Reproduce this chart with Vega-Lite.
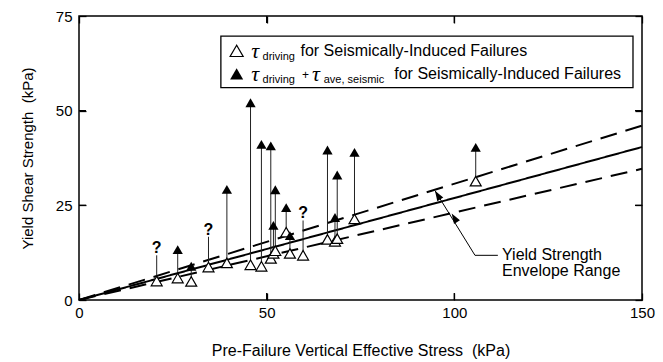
{
  "$schema": "https://vega.github.io/schema/vega-lite/v6.json",
  "width": 563,
  "height": 284,
  "autosize": {"type": "none"},
  "padding": {"left": 79, "top": 16, "right": 21, "bottom": 62},
  "background": "white",
  "config": {
    "font": "Liberation Sans",
    "view": {"stroke": "black", "strokeWidth": 1.5},
    "axis": {
      "grid": false,
      "domain": false,
      "labelFlush": false,
      "labelColor": "black",
      "titleColor": "black",
      "labelFontSize": 15,
      "titleFontWeight": "normal",
      "labelFont": "Liberation Sans",
      "titleFont": "Liberation Sans"
    }
  },
  "datasets": {
    "envelope": [
      {"bound": "lower", "sigma": 0, "tau": 0},
      {"bound": "lower", "sigma": 150, "tau": 34.65},
      {"bound": "mean", "sigma": 0, "tau": 0},
      {"bound": "mean", "sigma": 150, "tau": 40.4},
      {"bound": "upper", "sigma": 0, "tau": 0},
      {"bound": "upper", "sigma": 150, "tau": 46.05}
    ],
    "xTicks": [
      {"at": 50, "from": 0, "to": 1.85},
      {"at": 100, "from": 0, "to": 1.85},
      {"at": 50, "from": 73.15, "to": 75},
      {"at": 100, "from": 73.15, "to": 75}
    ],
    "yTicks": [
      {"at": 25, "from": 0, "to": 1.87},
      {"at": 50, "from": 0, "to": 1.87},
      {"at": 25, "from": 148.13, "to": 150},
      {"at": 50, "from": 148.13, "to": 150}
    ],
    "cases": [
      {"sigma": 20.7, "driving": 5.0, "total": null, "top": 11.8, "unknown": "?"},
      {"sigma": 26.3, "driving": 5.8, "total": 13.3, "top": 13.3, "unknown": null},
      {"sigma": 29.9, "driving": 4.9, "total": 8.9, "top": 8.9, "unknown": null},
      {"sigma": 34.5, "driving": 8.7, "total": null, "top": 16.7, "unknown": "?"},
      {"sigma": 39.4, "driving": 9.8, "total": 29.2, "top": 29.2, "unknown": null},
      {"sigma": 45.7, "driving": 9.3, "total": 52.1, "top": 52.1, "unknown": null},
      {"sigma": 48.6, "driving": 8.9, "total": 41.1, "top": 41.1, "unknown": null},
      {"sigma": 51.1, "driving": 11.0, "total": 40.7, "top": 40.7, "unknown": null},
      {"sigma": 51.8, "driving": 12.3, "total": 19.7, "top": 19.7, "unknown": null},
      {"sigma": 52.3, "driving": 13.0, "total": 29.1, "top": 29.1, "unknown": null},
      {"sigma": 55.2, "driving": 17.9, "total": 24.4, "top": 24.4, "unknown": null},
      {"sigma": 56.2, "driving": 12.3, "total": 17.0, "top": 17.0, "unknown": null},
      {"sigma": 59.7, "driving": 11.8, "total": null, "top": 21.0, "unknown": "?"},
      {"sigma": 66.2, "driving": 16.0, "total": 39.6, "top": 39.6, "unknown": null},
      {"sigma": 68.2, "driving": 15.5, "total": 21.8, "top": 21.8, "unknown": null},
      {"sigma": 68.8, "driving": 16.2, "total": 33.0, "top": 33.0, "unknown": null},
      {"sigma": 73.4, "driving": 21.4, "total": 39.0, "top": 39.0, "unknown": null},
      {"sigma": 105.7, "driving": 31.4, "total": 40.3, "top": 40.3, "unknown": null}
    ],
    "legendBox": [{"x": 37.8, "x2": 147.6, "y": 56.1, "y2": 69.7}],
    "legendSymbols": [
      {"kind": "open", "x": 42.0, "y": 65.8},
      {"kind": "filled", "x": 42.0, "y": 59.7}
    ],
    "legendText": [
      {"part": "tau", "x": 45.9, "y": 65.8, "text": "τ"},
      {"part": "sub", "x": 48.9, "y": 64.2, "text": "driving"},
      {"part": "main", "x": 59.0, "y": 65.8, "text": "for Seismically-Induced Failures"},
      {"part": "tau", "x": 45.9, "y": 59.7, "text": "τ"},
      {"part": "sub", "x": 48.9, "y": 58.1, "text": "driving"},
      {"part": "plus", "x": 59.4, "y": 59.4, "text": "+"},
      {"part": "tau", "x": 62.1, "y": 59.7, "text": "τ"},
      {"part": "sub", "x": 65.2, "y": 58.1, "text": "ave, seismic"},
      {"part": "main", "x": 84.0, "y": 59.7, "text": "for Seismically-Induced Failures"},
      {"part": "note", "x": 112.7, "y": 11.8, "text": "Yield Strength"},
      {"part": "note", "x": 112.7, "y": 7.6, "text": "Envelope Range"}
    ],
    "leader": [
      {"order": 1, "x": 111.6, "y": 11.8},
      {"order": 2, "x": 105.5, "y": 11.8},
      {"order": 3, "x": 94.9, "y": 28.8}
    ],
    "arrowheads": [
      {"x": 95.55, "y": 27.7},
      {"x": 100.0, "y": 21.7}
    ]
  },
  "layer": [
    {
      "data": {"name": "envelope"},
      "mark": {"type": "line", "color": "black", "strokeWidth": 2},
      "encoding": {
        "x": {
          "field": "sigma", "type": "quantitative",
          "scale": {"domain": [0, 150], "nice": false},
          "axis": {"orient": "bottom", "values": [0, 50, 100, 150], "ticks": true, "tickColor": "black", "tickSize": 7, "tickWidth": 1.3, "offset": -7, "labelPadding": 5, "title": "Pre-Failure Vertical Effective Stress\u00a0\u00a0(kPa)", "titleFontSize": 16, "titlePadding": 22}
        },
        "y": {
          "field": "tau", "type": "quantitative",
          "scale": {"domain": [0, 75], "nice": false},
          "axis": {"orient": "left", "values": [0, 25, 50, 75], "ticks": true, "tickColor": "black", "tickSize": 7, "tickWidth": 1.3, "offset": -7, "labelPadding": 7, "title": "Yield Shear Strength\u00a0\u00a0(kPa)", "titleFontSize": 15, "titlePadding": 20}
        },
        "detail": {"field": "bound", "type": "nominal"},
        "strokeDash": {"field": "bound", "type": "nominal", "scale": {"domain": ["lower", "mean", "upper"], "range": [[17, 9], [1, 0], [17, 9]]}, "legend": null}
      }
    },
    {
      "data": {"name": "cases"},
      "mark": {"type": "rule", "color": "#222", "strokeWidth": 1},
      "encoding": {
        "x": {"field": "sigma", "type": "quantitative", "axis": {"orient": "top", "values": [0, 50, 100, 150], "ticks": true, "tickColor": "black", "tickSize": 7, "tickWidth": 1.3, "offset": -7, "labels": false, "title": null}},
        "y": {"field": "driving", "type": "quantitative", "axis": {"orient": "right", "values": [0, 25, 50, 75], "ticks": true, "tickColor": "black", "tickSize": 7, "tickWidth": 1.3, "offset": -7, "labels": false, "title": null}},
        "y2": {"field": "top"}
      }
    },
    {
      "data": {"name": "xTicks"},
      "mark": {"type": "rule", "color": "black", "strokeWidth": 1.3},
      "encoding": {
        "x": {"field": "at", "type": "quantitative", "axis": null},
        "y": {"field": "from", "type": "quantitative", "axis": null},
        "y2": {"field": "to"}
      }
    },
    {
      "data": {"name": "yTicks"},
      "mark": {"type": "rule", "color": "black", "strokeWidth": 1.3},
      "encoding": {
        "y": {"field": "at", "type": "quantitative", "axis": null},
        "x": {"field": "from", "type": "quantitative", "axis": null},
        "x2": {"field": "to"}
      }
    },
    {
      "data": {"name": "cases"},
      "mark": {"type": "point", "shape": "triangle-up", "filled": true, "fill": "white", "stroke": "black", "strokeWidth": 1.2, "size": 120, "opacity": 1},
      "encoding": {
        "x": {"field": "sigma", "type": "quantitative", "axis": null},
        "y": {"field": "driving", "type": "quantitative", "axis": null}
      }
    },
    {
      "data": {"name": "cases"},
      "transform": [{"filter": "datum.total != null"}],
      "mark": {"type": "point", "shape": "triangle-up", "filled": true, "color": "black", "size": 105, "opacity": 1},
      "encoding": {
        "x": {"field": "sigma", "type": "quantitative", "axis": null},
        "y": {"field": "total", "type": "quantitative", "axis": null}
      }
    },
    {
      "data": {"name": "cases"},
      "transform": [{"filter": "datum.unknown != null"}],
      "mark": {"type": "text", "fontSize": 16, "fontWeight": "bold", "baseline": "bottom", "dy": 1, "color": "black"},
      "encoding": {
        "x": {"field": "sigma", "type": "quantitative", "axis": null},
        "y": {"field": "top", "type": "quantitative", "axis": null},
        "text": {"field": "unknown"}
      }
    },
    {
      "data": {"name": "legendBox"},
      "mark": {"type": "rect", "fill": "white", "stroke": "black", "strokeWidth": 1.3},
      "encoding": {
        "x": {"field": "x", "type": "quantitative", "axis": null},
        "x2": {"field": "x2"},
        "y": {"field": "y", "type": "quantitative", "axis": null},
        "y2": {"field": "y2"}
      }
    },
    {
      "data": {"name": "legendSymbols"},
      "transform": [{"filter": "datum.kind == 'open'"}],
      "mark": {"type": "point", "shape": "triangle-up", "filled": true, "fill": "white", "stroke": "black", "strokeWidth": 1.2, "size": 170, "opacity": 1},
      "encoding": {
        "x": {"field": "x", "type": "quantitative", "axis": null},
        "y": {"field": "y", "type": "quantitative", "axis": null}
      }
    },
    {
      "data": {"name": "legendSymbols"},
      "transform": [{"filter": "datum.kind == 'filled'"}],
      "mark": {"type": "point", "shape": "triangle-up", "filled": true, "color": "black", "size": 170, "opacity": 1},
      "encoding": {
        "x": {"field": "x", "type": "quantitative", "axis": null},
        "y": {"field": "y", "type": "quantitative", "axis": null}
      }
    },
    {
      "data": {"name": "legendText"},
      "transform": [{"filter": "datum.part == 'main' || datum.part == 'note'"}],
      "mark": {"type": "text", "align": "left", "baseline": "middle", "fontSize": 16, "color": "black"},
      "encoding": {
        "x": {"field": "x", "type": "quantitative", "axis": null},
        "y": {"field": "y", "type": "quantitative", "axis": null},
        "text": {"field": "text"}
      }
    },
    {
      "data": {"name": "legendText"},
      "transform": [{"filter": "datum.part == 'tau'"}],
      "mark": {"type": "text", "align": "left", "baseline": "middle", "fontSize": 22, "font": "Liberation Serif", "fontStyle": "italic", "color": "black"},
      "encoding": {
        "x": {"field": "x", "type": "quantitative", "axis": null},
        "y": {"field": "y", "type": "quantitative", "axis": null},
        "text": {"field": "text"}
      }
    },
    {
      "data": {"name": "legendText"},
      "transform": [{"filter": "datum.part == 'sub'"}],
      "mark": {"type": "text", "align": "left", "baseline": "middle", "fontSize": 11, "color": "black"},
      "encoding": {
        "x": {"field": "x", "type": "quantitative", "axis": null},
        "y": {"field": "y", "type": "quantitative", "axis": null},
        "text": {"field": "text"}
      }
    },
    {
      "data": {"name": "legendText"},
      "transform": [{"filter": "datum.part == 'plus'"}],
      "mark": {"type": "text", "align": "left", "baseline": "middle", "fontSize": 12, "color": "black"},
      "encoding": {
        "x": {"field": "x", "type": "quantitative", "axis": null},
        "y": {"field": "y", "type": "quantitative", "axis": null},
        "text": {"field": "text"}
      }
    },
    {
      "data": {"name": "leader"},
      "mark": {"type": "line", "color": "black", "strokeWidth": 1},
      "encoding": {
        "x": {"field": "x", "type": "quantitative", "axis": null},
        "y": {"field": "y", "type": "quantitative", "axis": null},
        "order": {"field": "order", "type": "quantitative"}
      }
    },
    {
      "data": {"name": "arrowheads"},
      "mark": {"type": "point", "shape": "M0,-1L-0.7,1L0.7,1Z", "filled": true, "color": "black", "size": 100, "angle": -32, "opacity": 1},
      "encoding": {
        "x": {"field": "x", "type": "quantitative", "axis": null},
        "y": {"field": "y", "type": "quantitative", "axis": null}
      }
    }
  ]
}
